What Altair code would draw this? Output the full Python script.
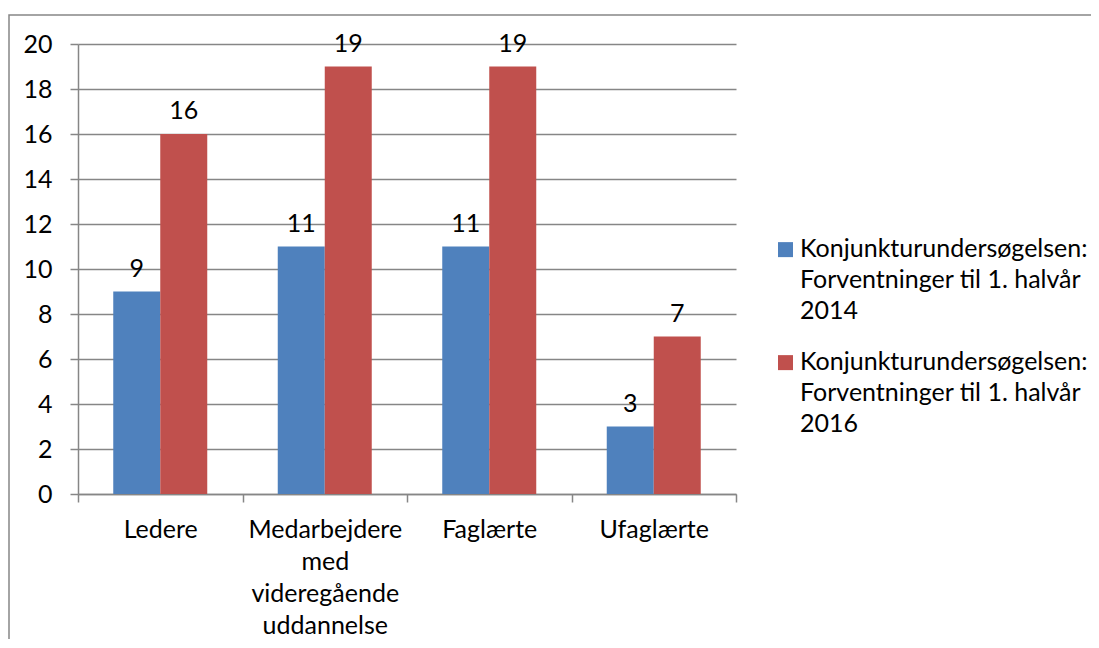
import altair as alt
import pandas as pd

categories = ["Ledere", "Medarbejdere med videregående uddannelse", "Faglærte", "Ufaglærte"]
series = [
    "Konjunkturundersøgelsen: Forventninger til 1. halvår 2014",
    "Konjunkturundersøgelsen: Forventninger til 1. halvår 2016",
]
values_2014 = [9, 11, 11, 3]
values_2016 = [16, 19, 19, 7]
colors = ["#4F81BD", "#C0504D"]

rows = []
for c, a, b in zip(categories, values_2014, values_2016):
    rows.append({"cat": c, "series": series[0], "value": a})
    rows.append({"cat": c, "series": series[1], "value": b})
df = pd.DataFrame(rows)

FONT = "Lato"
FS = 25
GRID = "#868686"

x_enc = alt.X(
    "cat:N", sort=categories, title=None,
    scale=alt.Scale(paddingInner=0, paddingOuter=0),
    axis=alt.Axis(labelExpr="split(datum.label, ' ')", labelAngle=0,
                  labelLineHeight=32, labelPadding=15, tickBand="extent",
                  tickSize=8, tickColor=GRID, domainColor=GRID, tickWidth=1.5,
                  domainWidth=1.5, labelFont=FONT, labelFontSize=FS,
                  labelColor="black", grid=False),
)
xoff = alt.XOffset("series:N", sort=series, scale=alt.Scale(paddingOuter=0.75, paddingInner=0))
y_enc = alt.Y(
    "value:Q", title=None,
    scale=alt.Scale(domain=[0, 20], nice=False),
    axis=alt.Axis(values=list(range(0, 21, 2)), tickSize=8, tickColor=GRID,
                  domainColor=GRID, gridColor=GRID, tickWidth=1.5, domainWidth=1.5,
                  gridWidth=1.5, labelPadding=18, labelFont=FONT, labelFontSize=FS,
                  labelColor="black"),
)

# square symbol drawn lower so it sits beside the first label line
SQUARE = "M-1,0.75 H1 V2.75 H-1 Z"

bars = alt.Chart(df).mark_bar().encode(
    x=x_enc, xOffset=xoff, y=y_enc,
    color=alt.Color("series:N", sort=series, scale=alt.Scale(domain=series, range=colors),
                    legend=alt.Legend(title=None, orient="none", legendX=695, legendY=180,
                                      symbolType=SQUARE, symbolSize=225,
                                      labelExpr="split(replace(replace(datum.label, ': ', ':|'), ' 20', '|20'), '|')",
                                      labelFont=FONT, labelFontSize=FS, labelColor="black",
                                      labelLimit=400, rowPadding=13,
                                      labelBaseline="top", labelOffset=2, symbolStrokeWidth=0)),
)

texts = alt.Chart(df).mark_text(baseline="bottom", dy=-10, font=FONT, fontSize=FS, color="black").encode(
    x=x_enc, xOffset=xoff, y=y_enc, text="value:Q",
)

border = alt.Chart(pd.DataFrame({"a": [0]})).mark_rect(filled=False, stroke=GRID, strokeWidth=1.5).encode(
    x=alt.value(-69), x2=alt.value(1400), y=alt.value(-29), y2=alt.value(900),
)

chart = alt.layer(border, bars, texts).properties(
    width=658, height=450,
    padding={"left": 70, "top": 36, "right": 355, "bottom": 145},
    autosize=alt.AutoSizeParams(type="none"),
).configure(
    background="white",
    style={"guide-label": {"lineHeight": 31}},
).configure_view(strokeWidth=0)

chart.save("out.html", embed_options={"renderer": "svg", "actions": False})
